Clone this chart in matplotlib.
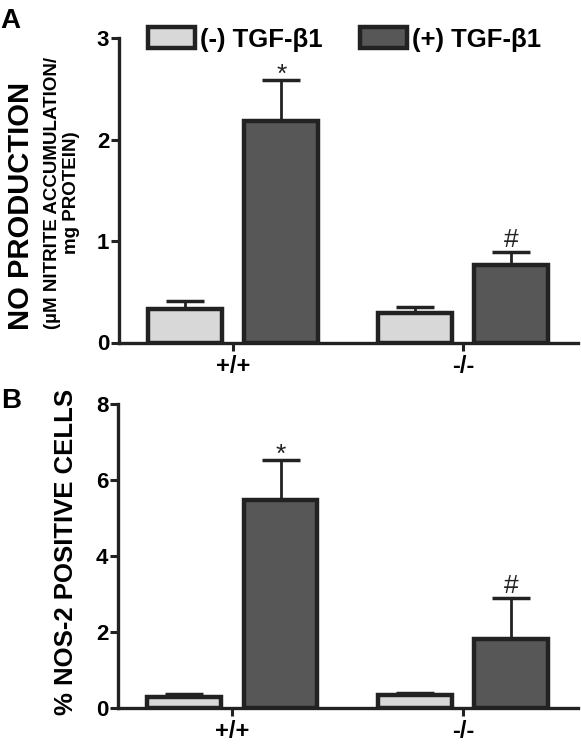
import matplotlib.pyplot as plt
import matplotlib.patches as mpatches
import numpy as np

plt.rcParams['font.family'] = ['Liberation Sans', 'DejaVu Sans']
plt.rcParams['font.weight'] = 'bold'

groups = ['+/+', '-/-']
series = ['(-) TGF-\u03b21', '(+) TGF-\u03b21']

# panel A: NO production
no_minus = [0.33, 0.29]
no_minus_err = [0.08, 0.06]
no_plus = [2.18, 0.76]
no_plus_err = [0.41, 0.13]
no_marks = ['*', '#']

# panel B: % NOS-2 positive cells
nos_minus = [0.30, 0.33]
nos_minus_err = [0.08, 0.07]
nos_plus = [5.48, 1.82]
nos_plus_err = [1.05, 1.07]
nos_marks = ['*', '#']

light = '#d8d8d8'
dark = '#575757'
edge = '#222222'

W, H = 581, 750
fig = plt.figure(figsize=(W / 100, H / 100), dpi=100)


def px_axes(left, top, right, bottom):
    return fig.add_axes([left / W, 1 - bottom / H, (right - left) / W, (bottom - top) / H])


def draw_panel(ax, minus, minus_err, plus, plus_err, marks, ymax):
    x = np.arange(len(groups))
    off = 0.209
    bw = 0.32
    for vals, errs, col, dx in [(minus, minus_err, light, -off), (plus, plus_err, dark, off)]:
        ax.errorbar(x + dx, vals, yerr=[np.zeros(len(vals)), errs], fmt='none',
                    ecolor=edge, elinewidth=2, capsize=14, capthick=2.5, zorder=2)
        ax.bar(x + dx, vals, bw, color=col, edgecolor=edge, linewidth=3.2, zorder=3)
    for xi, v, e, m in zip(x + off, plus, plus_err, marks):
        dy = -5 if m == '*' else 0
        ax.annotate(m, (xi, v + e), xytext=(0, dy), textcoords='offset points',
                    ha='center', va='bottom', fontsize=19, fontweight='normal', color=edge)
    ax.set_xlim(-0.497, 1.5)
    ax.set_ylim(0, ymax)
    ax.set_xticks(x)
    ax.set_xticklabels(groups, fontsize=17, fontweight='bold')
    ax.set_yticks(np.arange(0, ymax + 0.1, ymax / 4 if ymax > 4 else 1))
    ax.tick_params(axis='y', length=6, width=2.2, pad=1, labelsize=16, color=edge)
    ax.tick_params(axis='x', length=6, width=2.2, pad=3, color=edge)
    for lab in ax.get_yticklabels():
        lab.set_fontweight('bold')
    for s in ['top', 'right']:
        ax.spines[s].set_visible(False)
    for s in ['left', 'bottom']:
        ax.spines[s].set_linewidth(2.4)
        ax.spines[s].set_color(edge)


axA = px_axes(119, 38, 578, 342.5)
draw_panel(axA, no_minus, no_minus_err, no_plus, no_plus_err, no_marks, 3)

axB = px_axes(118, 404, 578, 708)
draw_panel(axB, nos_minus, nos_minus_err, nos_plus, nos_plus_err, nos_marks, 8)

handles = [mpatches.Patch(facecolor=light, edgecolor=edge, linewidth=3.2),
           mpatches.Patch(facecolor=dark, edgecolor=edge, linewidth=3.2)]
fig.legend(handles, series, loc='upper left', bbox_to_anchor=(148 / W, 1 - 27 / H),
           ncol=2, frameon=False, handlelength=1.83, handleheight=0.9,
           handletextpad=0.2, columnspacing=1.45, borderpad=0, borderaxespad=0,
           prop={'weight': 'bold', 'size': 18.5})

fig.text(21.5 / W, 1 - 206 / H, 'NO PRODUCTION', rotation=90, ha='center', va='center',
         fontsize=21, fontweight='bold')
fig.text(62 / W, 1 - 193 / H, '(\u00b5M NITRITE ACCUMULATION/\nmg PROTEIN)', rotation=90,
         ha='center', va='center', multialignment='center', fontsize=13.5,
         fontweight='bold', linespacing=1.1)
fig.text(66.5 / W, 1 - 552 / H, '% NOS-2 POSITIVE CELLS', rotation=90, ha='center',
         va='center', fontsize=18.5, fontweight='bold')

fig.text(10 / W, 1 - 21.5 / H, 'A', ha='center', va='center', fontsize=20, fontweight='bold')
fig.text(11 / W, 1 - 401.5 / H, 'B', ha='center', va='center', fontsize=20, fontweight='bold')

fig.savefig('out.png', dpi=100)
